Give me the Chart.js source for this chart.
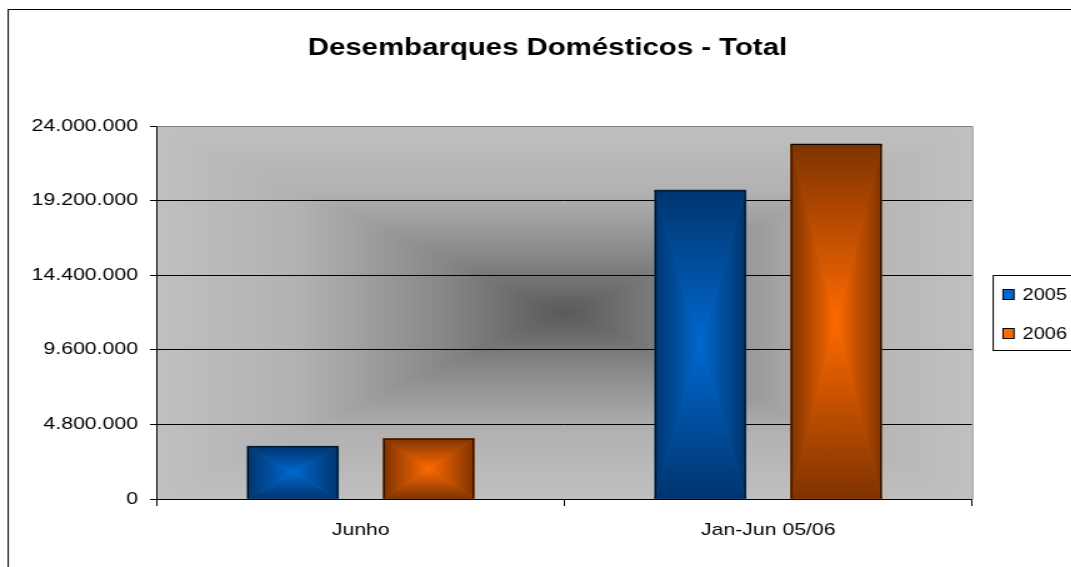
<!DOCTYPE html>
<html>
<head>
<meta charset="utf-8">
<script src="https://cdn.jsdelivr.net/npm/chart.js@4/dist/chart.umd.min.js"></script>
<style>
    html, body { margin: 0; padding: 0; background: #ffffff; overflow: hidden; }
    /* the reference is stretched wide, so the chart is drawn narrow and scaled in x */
    #wrap { width: 857px; height: 567px; transform: scaleX(1.25); transform-origin: 0 0; }
</style>
</head>
<body>
<div id="wrap"><canvas id="chart" width="857" height="567"></canvas></div>
<script>
const categories = ['Junho', 'Jan-Jun 05/06'];
const seriesLabels = ['2005', '2006'];
const values2005 = [3390000, 19870000];
const values2006 = [3890000, 22840000];
const yTicks = [0, 4800000, 9600000, 14400000, 19200000, 24000000];
const chartTitle = 'Desembarques Domésticos - Total';

const FONT = "'Liberation Sans', Arial, sans-serif";
const SERIES_COLORS = [
    { edge: '#00356e', center: '#0068d0' },
    { edge: '#7f3300', center: '#ff6a00' },
];
const BG_STOPS = [[0, '#c0c0c0'], [0.35, '#b2b2b2'], [0.7, '#888888'], [1, '#595959']];

function fmt(v) {
    return String(v).replace(/\B(?=(\d{3})+(?!\d))/g, '.');
}

// fill a rectangle with an Excel style "from center" gradient
function centerFill(ctx, l, t, r, b, stops) {
    const cx = (l + r) / 2, cy = (t + b) / 2;
    const sides = [
        [[l, t], [r, t], [cx, t, cx, cy]],
        [[r, t], [r, b], [r, cy, cx, cy]],
        [[r, b], [l, b], [cx, b, cx, cy]],
        [[l, b], [l, t], [l, cy, cx, cy]],
    ];
    sides.forEach(([p1, p2, g]) => {
        const grad = ctx.createLinearGradient(g[0], g[1], g[2], g[3]);
        stops.forEach(([o, c]) => grad.addColorStop(o, c));
        ctx.beginPath();
        ctx.moveTo(p1[0], p1[1]);
        ctx.lineTo(p2[0], p2[1]);
        ctx.lineTo(cx, cy);
        ctx.closePath();
        ctx.fillStyle = grad;
        ctx.fill();
        ctx.strokeStyle = grad;
        ctx.lineWidth = 0.8;
        ctx.stroke();
    });
}

const decor = {
    id: 'decor',
    beforeDraw(chart) {
        const { ctx, chartArea: a } = chart;
        ctx.save();
        ctx.beginPath();
        ctx.rect(a.left, a.top, a.right - a.left, a.bottom - a.top);
        ctx.clip();
        centerFill(ctx, a.left, a.top, a.right, a.bottom, BG_STOPS);
        ctx.restore();
    },
    beforeDatasetsDraw(chart) {
        const { ctx, chartArea: a } = chart;
        ctx.save();
        ctx.strokeStyle = '#808080';
        ctx.lineWidth = 1;
        ctx.beginPath();
        ctx.moveTo(a.left, a.top + 0.5);
        ctx.lineTo(a.right + 0.5, a.top + 0.5);
        ctx.lineTo(a.right + 0.5, a.bottom);
        ctx.stroke();
        chart.data.datasets.forEach((ds, i) => {
            const c = SERIES_COLORS[i];
            chart.getDatasetMeta(i).data.forEach(bar => {
                const p = bar.getProps(['x', 'y', 'base', 'width'], true);
                const top = Math.min(p.y, p.base), bottom = Math.max(p.y, p.base);
                centerFill(ctx, p.x - p.width / 2, top, p.x + p.width / 2, bottom,
                    [[0, c.edge], [1, c.center]]);
            });
        });
        ctx.restore();
    },
    afterDraw(chart) {
        const { ctx } = chart;
        ctx.save();
        // title
        ctx.fillStyle = '#000000';
        ctx.font = 'bold 23.5px ' + FONT;
        ctx.textAlign = 'center';
        ctx.textBaseline = 'middle';
        ctx.fillText(chartTitle, 438, 49);
        // outer frame
        ctx.strokeStyle = '#000000';
        ctx.lineWidth = 1;
        ctx.strokeRect(6.6, 9.5, 900, 600);
        // legend
        ctx.strokeRect(794.6, 275.5, 120, 75);
        const rows = [294.5, 333.5];
        ctx.font = '16px ' + FONT;
        ctx.textAlign = 'left';
        chart.data.datasets.forEach((ds, i) => {
            ctx.fillStyle = SERIES_COLORS[i].center;
            ctx.fillRect(802.4, rows[i] - 5, 8.8, 10);
            ctx.strokeStyle = '#000000';
            ctx.strokeRect(802.4, rows[i] - 5, 8.8, 10);
            ctx.fillStyle = '#000000';
            ctx.fillText(ds.label, 818, rows[i] + 1);
        });
        ctx.restore();
    },
};

new Chart(document.getElementById('chart'), {
    type: 'bar',
    data: {
        labels: categories,
        datasets: [
            { label: seriesLabels[0], data: values2005 },
            { label: seriesLabels[1], data: values2006 },
        ].map(ds => ({
            ...ds,
            backgroundColor: 'rgba(0,0,0,0)',
            borderColor: '#000000',
            borderWidth: 1,
            categoryPercentage: 0.667,
            barPercentage: 0.669,
        })),
    },
    options: {
        responsive: false,
        animation: false,
        layout: { padding: { top: 126, left: 8, right: 79.4, bottom: 0 } },
        plugins: {
            legend: { display: false },
            tooltip: { enabled: false },
            title: { display: false },
        },
        scales: {
            x: {
                afterFit: s => { s.height = 68; },
                grid: { drawOnChartArea: false, drawTicks: true, tickLength: 7, color: '#000000' },
                border: { color: '#000000' },
                ticks: { color: '#000000', font: { family: FONT, size: 17 }, padding: 14 },
            },
            y: {
                min: 0,
                max: 24000000,
                afterFit: s => { s.width = 117.6; },
                afterBuildTicks: s => { s.ticks = yTicks.map(v => ({ value: v })); },
                grid: {
                    color: c => (c.tick && c.tick.value === 24000000 ? '#808080' : '#000000'),
                    tickColor: '#000000',
                    tickLength: 5.6,
                },
                border: { color: '#000000' },
                ticks: {
                    color: '#000000',
                    font: { family: FONT, size: 17 },
                    padding: 9.6,
                    callback: v => fmt(v),
                },
            },
        },
    },
    plugins: [decor],
});
</script>
</body>
</html>
